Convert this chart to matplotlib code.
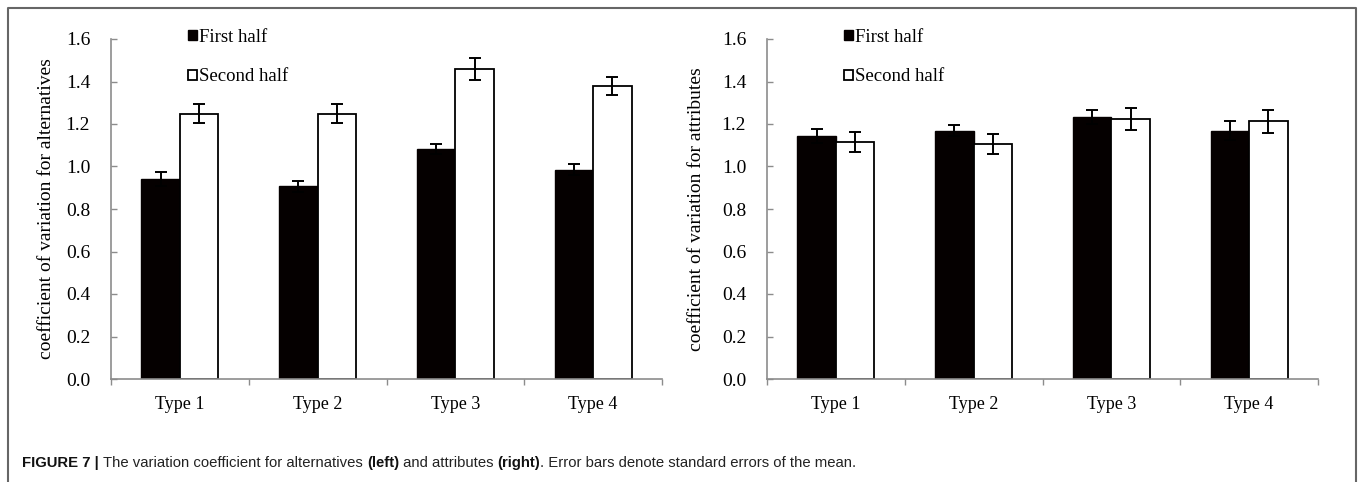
import numpy as np
import matplotlib
matplotlib.use("Agg")
import matplotlib.pyplot as plt
from matplotlib.lines import Line2D

plt.rcParams['font.family'] = 'Liberation Serif'

# data
types = ['Type 1', 'Type 2', 'Type 3', 'Type 4']
series = ['First half', 'Second half']

alt_first = [0.942, 0.906, 1.083, 0.985]
alt_first_err = [0.033, 0.025, 0.024, 0.025]
alt_second = [1.248, 1.248, 1.459, 1.379]
alt_second_err = [0.044, 0.045, 0.052, 0.044]

att_first = [1.143, 1.169, 1.232, 1.169]
att_first_err = [0.034, 0.027, 0.033, 0.044]
att_second = [1.116, 1.107, 1.223, 1.212]
att_second_err = [0.047, 0.046, 0.051, 0.053]

yticks = [0.0, 0.2, 0.4, 0.6, 0.8, 1.0, 1.2, 1.4, 1.6]

W, H = 1358, 482
fig = plt.figure(figsize=(W / 100, H / 100), dpi=100)

GRAY = '#8c8c8c'
bw = 0.28


def panel(left_px, first, first_err, second, second_err, ylabel, ylab_x):
    ax = fig.add_axes([left_px / W, 103 / H, 551 / W, 340 / H])
    x = np.arange(len(types))
    b1 = ax.bar(x - bw / 2, first, bw, color='#050000', edgecolor='#050000',
                linewidth=1.0, zorder=2, label=series[0])
    b2 = ax.bar(x + bw / 2, second, bw, color='white', edgecolor='black',
                linewidth=1.3, zorder=2, label=series[1])
    ax.errorbar(x - bw / 2, first, yerr=first_err, fmt='none', ecolor='black',
                elinewidth=1.4, capsize=4, capthick=1.4, zorder=3)
    ax.errorbar(x + bw / 2, second, yerr=second_err, fmt='none', ecolor='black',
                elinewidth=1.4, capsize=4, capthick=1.4, zorder=3)
    ax.set_xlim(-0.5, len(types) - 0.5)
    ax.set_ylim(0, 1.6)
    ax.set_yticks(yticks)
    ax.set_yticklabels(['%.1f' % v for v in yticks])
    ax.set_xticks(x)
    ax.set_xticklabels(types)
    ax.set_xticks(np.arange(len(types) + 1) - 0.5, minor=True)
    ax.tick_params(axis='x', which='major', length=0, pad=12, labelsize=13)
    ax.tick_params(axis='x', which='minor', length=4, direction='out',
                   color=GRAY, width=1)
    ax.tick_params(axis='y', length=4, direction='in', color=GRAY, width=1,
                   pad=15, labelsize=14)
    for s in ['top', 'right']:
        ax.spines[s].set_visible(False)
    for s in ['left', 'bottom']:
        ax.spines[s].set_color(GRAY)
        ax.spines[s].set_linewidth(1.2)
    ax.set_ylabel(ylabel, fontsize=14)
    ax.yaxis.set_label_coords(ylab_x, 0.5)
    ax.legend(handles=[b1, b2], loc='upper left', bbox_to_anchor=(0.14, 1.03),
              frameon=False, fontsize=13.5, handlelength=0.45, handleheight=0.45,
              handletextpad=0.15, labelspacing=1.2, borderpad=0,
              borderaxespad=0)
    return ax


panel(111, alt_first, alt_first_err, alt_second, alt_second_err,
      'coefficient of variation for alternatives', -0.102)
panel(767, att_first, att_first_err, att_second, att_second_err,
      'coefficient of variation for attributes', -0.113)

# outer frame
fx = [8 / W, 8 / W, 1356 / W, 1356 / W]
fy = [0, 1 - 8 / H, 1 - 8 / H, 0]
fig.add_artist(Line2D(fx, fy, color='#666666', linewidth=1.5,
                      transform=fig.transFigure))

# caption with mixed bold pieces
pieces = [('FIGURE 7 | ', 'bold'), ('The variation coefficient for alternatives ', 'normal'),
          ('(left)', 'bold'), (' and attributes ', 'normal'), ('(right)', 'bold'),
          ('. Error bars denote standard errors of the mean.', 'normal')]
fig.canvas.draw()
r = fig.canvas.get_renderer()
xpos = 22
for txt, wt in pieces:
    t = fig.text(xpos / W, 1 - 463 / H, txt, fontsize=10.7, fontweight=wt,
                 family='Liberation Sans', va='center', ha='left',
                 color='#222222' if wt == 'normal' else '#111111')
    xpos += t.get_window_extent(r).width

fig.savefig('out.png', dpi=100)
